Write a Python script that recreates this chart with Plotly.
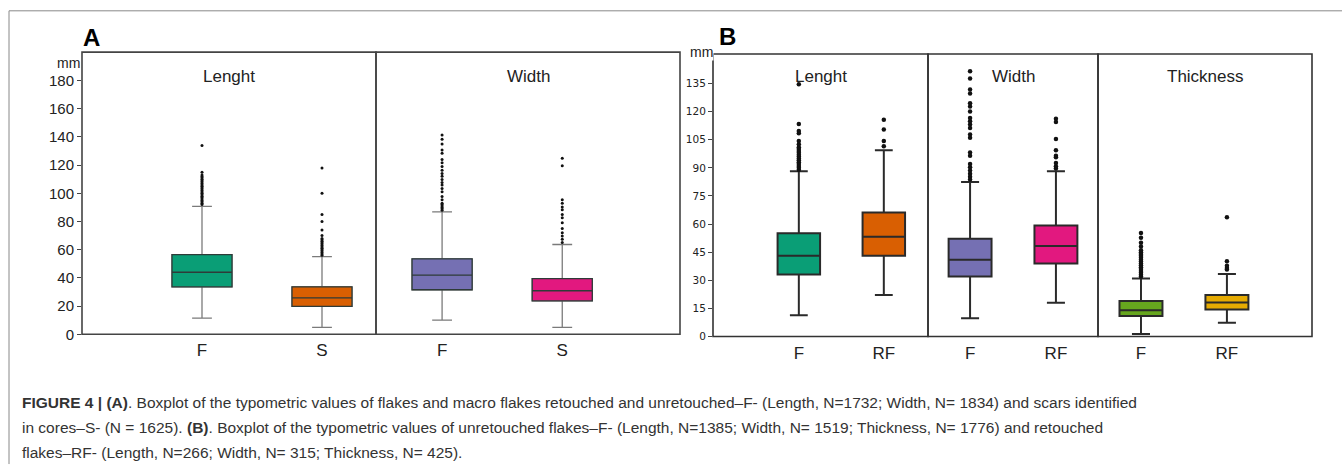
import plotly.graph_objects as go

W, H = 1342, 475

# ---------------- data ----------------
# Panel A : Lenght / Width, categories F and S
A_cats = ["F", "S"]
A_len_q1 = [33.7, 19.8]
A_len_med = [44.0, 25.8]
A_len_q3 = [56.5, 33.7]
A_len_lo = [11.4, 4.9]
A_len_hi = [90.7, 55.1]
A_len_F_out = [92, 93, 94, 95, 96, 97, 98, 99, 100, 101, 102, 103, 104, 105, 106,
               107, 108, 109, 110, 111, 112, 113, 115, 134]
A_len_S_out = [56, 57, 58, 59, 60, 61, 62, 63, 64, 65, 66, 67, 68, 70, 74, 80, 85, 100, 118]

A_wid_q1 = [31.6, 23.7]
A_wid_med = [41.9, 30.9]
A_wid_q3 = [53.5, 39.5]
A_wid_lo = [10.0, 4.9]
A_wid_hi = [86.8, 63.7]
A_wid_F_out = [88, 89, 90, 91, 92, 93, 95.4, 97.7, 101.2, 103.5, 105.9, 107.7, 109.8,
               112.1, 114, 116.3, 119.1, 121.7, 124, 128.4, 130.8, 135, 138.4, 141.4]
A_wid_S_out = [65.1, 67.4, 69.8, 72, 75.1, 79.1, 82.6, 85, 88.4, 90.3, 93, 95.4, 119.6, 124.9]

# Panel B : Lenght / Width / Thickness, categories F and RF
B_cats = ["F", "RF"]
B_len_q1 = [33.1, 43.1]
B_len_med = [43.1, 53.2]
B_len_q3 = [55.1, 66.2]
B_len_lo = [11.4, 22.1]
B_len_hi = [88.2, 99.4]
B_len_F_out = [89, 90, 91, 92, 93, 94, 95, 96, 97, 98, 99, 100, 101, 102.6, 104.3,
               108.4, 109.6, 113.4, 134.6]
B_len_RF_out = [101.5, 104.3, 110.5, 115.7]

B_wid_q1 = [32.0, 39.0]
B_wid_med = [41.0, 48.3]
B_wid_q3 = [52.2, 59.2]
B_wid_lo = [9.8, 18.0]
B_wid_hi = [82.5, 88.2]
B_wid_F_out = [83.8, 85.2, 86.9, 88.6, 90.3, 92.1, 96.5, 98.2, 106.1, 107.8, 111.3,
               113.1, 114.9, 116.6, 120.1, 122.7, 124.5, 129.7, 131.8, 137.6, 141.6]
B_wid_RF_out = [89.6, 90.9, 92.6, 95.6, 96.5, 99.4, 105.4, 114.5, 116.2]

B_thk_q1 = [10.9, 14.4]
B_thk_med = [14.0, 18.2]
B_thk_q3 = [18.9, 22.1]
B_thk_lo = [1.4, 7.4]
B_thk_hi = [31.0, 33.3]
B_thk_F_out = [32, 33, 34, 35, 36, 37, 38, 39, 40, 41, 42, 43, 44, 45, 46, 48, 50.1, 52.7, 55.3]
B_thk_RF_out = [35.7, 36.6, 37.8, 40.1, 63.7]

A_ticks = list(range(0, 181, 20))
B_ticks = list(range(0, 136, 15))

colors_len = ["#0a9e76", "#d95f02"]
colors_wid = ["#7570b3", "#e2187f"]
colors_thk = ["#66a61e", "#e6ab02"]

caption = [
    "<b>FIGURE 4 | (A)</b>. Boxplot of the typometric values of flakes and macro flakes retouched and unretouched–F- (Length, N=1732; Width, N= 1834) and scars identified",
    "in cores–S- (N = 1625). <b>(B)</b>. Boxplot of the typometric values of unretouched flakes–F- (Length, N=1385; Width, N= 1519; Thickness, N= 1776) and retouched",
    "flakes–RF- (Length, N=266; Width, N= 315; Thickness, N= 425).",
]


def xp(px):
    return px / W


def yp(py):
    return 1 - py / H


fig = go.Figure()


def add_panel(xa, ya, cats, q1, med, q3, lo, hi, outs, cols, lw, lcol, ww, msize,
              whisk_col=None):
    for i, c in enumerate(cats):
        if whisk_col is not None:
            # whiskers in a lighter grey, box outline drawn on top in dark
            fig.add_trace(go.Box(
                x=[c], q1=[q1[i]], median=[med[i]], q3=[q3[i]],
                lowerfence=[lo[i]], upperfence=[hi[i]],
                boxpoints=False, fillcolor=cols[i],
                line=dict(color=whisk_col, width=lw), width=0.5, whiskerwidth=ww,
                xaxis=xa, yaxis=ya, showlegend=False, hoverinfo="skip"))
            fig.add_trace(go.Box(
                x=[c], q1=[q1[i]], median=[med[i]], q3=[q3[i]],
                lowerfence=[q1[i]], upperfence=[q3[i]],
                boxpoints=False, fillcolor=cols[i],
                line=dict(color=lcol, width=lw), width=0.5, whiskerwidth=0,
                xaxis=xa, yaxis=ya, showlegend=False, hoverinfo="skip"))
        else:
            fig.add_trace(go.Box(
                x=[c], q1=[q1[i]], median=[med[i]], q3=[q3[i]],
                lowerfence=[lo[i]], upperfence=[hi[i]],
                boxpoints=False, fillcolor=cols[i],
                line=dict(color=lcol, width=lw), width=0.5, whiskerwidth=ww,
                xaxis=xa, yaxis=ya, showlegend=False, hoverinfo="skip"))
        fig.add_trace(go.Scatter(
            x=[c] * len(outs[i]), y=outs[i], mode="markers",
            marker=dict(color="#111", size=msize),
            xaxis=xa, yaxis=ya, showlegend=False, hoverinfo="skip"))


add_panel("x", "y", A_cats, A_len_q1, A_len_med, A_len_q3, A_len_lo, A_len_hi,
          [A_len_F_out, A_len_S_out], colors_len, 1.3, "#2e3b38", 0.33, 3, "#7a7a7a")
add_panel("x2", "y", A_cats, A_wid_q1, A_wid_med, A_wid_q3, A_wid_lo, A_wid_hi,
          [A_wid_F_out, A_wid_S_out], colors_wid, 1.3, "#2e3b38", 0.33, 3, "#7a7a7a")
add_panel("x3", "y2", B_cats, B_len_q1, B_len_med, B_len_q3, B_len_lo, B_len_hi,
          [B_len_F_out, B_len_RF_out], colors_len, 2, "#2a2a2a", 0.42, 4.5)
add_panel("x4", "y2", B_cats, B_wid_q1, B_wid_med, B_wid_q3, B_wid_lo, B_wid_hi,
          [B_wid_F_out, B_wid_RF_out], colors_wid, 2, "#2a2a2a", 0.42, 4.5)
add_panel("x5", "y2", B_cats, B_thk_q1, B_thk_med, B_thk_q3, B_thk_lo, B_thk_hi,
          [B_thk_F_out, B_thk_RF_out], colors_thk, 2, "#2a2a2a", 0.42, 4.5)

FONT = "Liberation Sans, Arial, sans-serif"

xcommon = dict(type="category", showgrid=False, zeroline=False, showline=False,
               ticks="", tickfont=dict(family=FONT, size=17, color="#222"),
               ticklabelstandoff=4, fixedrange=True)

layout_axes = dict(
    boxmode="overlay",
    xaxis=dict(domain=[xp(82), xp(376)], anchor="y", categoryarray=A_cats,
               range=[-1.0, 1.45], **xcommon),
    xaxis2=dict(domain=[xp(376), xp(680)], anchor="y", categoryarray=A_cats,
                range=[-0.55, 1.98], **xcommon),
    xaxis3=dict(domain=[xp(713), xp(928)], anchor="y2", categoryarray=B_cats,
                range=[-1.01, 1.52], **xcommon),
    xaxis4=dict(domain=[xp(928), xp(1098)], anchor="y2", categoryarray=B_cats,
                range=[-0.49, 1.49], **xcommon),
    xaxis5=dict(domain=[xp(1098), xp(1312)], anchor="y2", categoryarray=B_cats,
                range=[-0.5, 1.99], **xcommon),
    yaxis=dict(domain=[yp(340), yp(53)], anchor="x", range=[0, 200.2],
               tickvals=A_ticks, ticks="outside", ticklen=4, tickcolor="#444",
               showgrid=False, zeroline=False, showline=False,
               tickfont=dict(family=FONT, size=15, color="#222")),
    yaxis2=dict(domain=[yp(342.3), yp(55)], anchor="x3", range=[0, 150.7],
                tickvals=B_ticks, ticks="outside", ticklen=4, tickcolor="#444",
                showgrid=False, zeroline=False, showline=False,
                tickfont=dict(family="DejaVu Sans, sans-serif", size=10.5, color="#222")),
)

shapes = []
for xa, ya, col in [("x", "y", "#444"), ("x2", "y", "#444"), ("x3", "y2", "#333"),
                    ("x4", "y2", "#333"), ("x5", "y2", "#333")]:
    shapes.append(dict(type="rect", xref=xa + " domain", yref=ya + " domain",
                       x0=0, x1=1, y0=0, y1=1, line=dict(color=col, width=1.6),
                       layer="above"))
# outer frame
shapes.append(dict(type="line", xref="paper", yref="paper", x0=xp(9), x1=1,
                   y0=yp(11), y1=yp(11), line=dict(color="#888", width=1)))
shapes.append(dict(type="line", xref="paper", yref="paper", x0=xp(9), x1=xp(9),
                   y0=yp(11), y1=yp(472), line=dict(color="#888", width=1)))

ann = []
ann.append(dict(text="<b>A</b>", x=xp(81), y=yp(38), xref="paper", yref="paper",
                xanchor="left", yanchor="middle", showarrow=False,
                font=dict(family=FONT, size=24, color="#000")))
ann.append(dict(text="<b>B</b>", x=xp(717), y=yp(37), xref="paper", yref="paper",
                xanchor="left", yanchor="middle", showarrow=False,
                font=dict(family=FONT, size=24, color="#000")))
ann.append(dict(text="mm", x=xp(82), y=yp(64), xref="paper", yref="paper",
                xanchor="right", yanchor="middle", showarrow=False,
                font=dict(family=FONT, size=14, color="#222")))
ann.append(dict(text="mm", x=xp(714), y=yp(53), xref="paper", yref="paper",
                xanchor="right", yanchor="middle", showarrow=False,
                bgcolor="white", borderpad=0,
                font=dict(family=FONT, size=14, color="#222")))
for xa, ya, t, yy in [("x", "y", "Lenght", 78), ("x2", "y", "Width", 78),
                      ("x3", "y2", "Lenght", 78), ("x4", "y2", "Width", 78),
                      ("x5", "y2", "Thickness", 78)]:
    ann.append(dict(text=t, x=0.5, y=yp(yy), xref=xa + " domain", yref="paper",
                    xanchor="center", yanchor="middle", showarrow=False,
                    font=dict(family=FONT, size=17, color="#222")))
for i, line in enumerate(caption):
    ann.append(dict(text=line, x=xp(20), y=yp(409 + 25.5 * i), xref="paper", yref="paper",
                    xanchor="left", yanchor="middle", showarrow=False,
                    font=dict(family=FONT, size=15.5, color="#333")))

fig.update_layout(
    width=W, height=H, margin=dict(l=0, r=0, t=0, b=0),
    paper_bgcolor="white", plot_bgcolor="white",
    shapes=shapes, annotations=ann, showlegend=False,
    **layout_axes)

fig.write_html("out.html")
